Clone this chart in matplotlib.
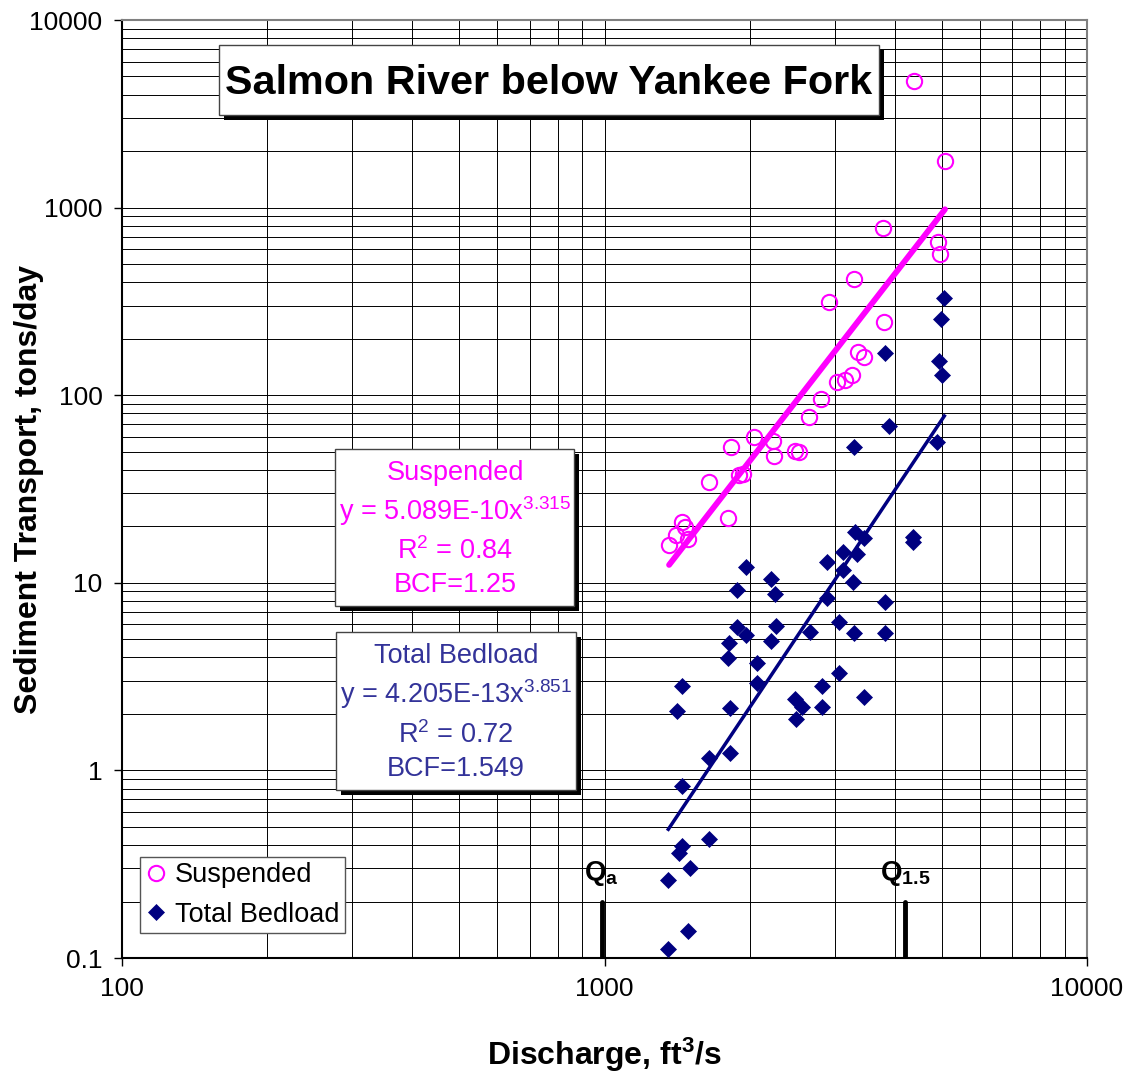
import numpy as np
import matplotlib.pyplot as plt
from matplotlib.patches import Rectangle
from matplotlib.ticker import LogLocator, NullFormatter

plt.rcParams['font.family'] = ['Liberation Sans', 'DejaVu Sans']
plt.rcParams['mathtext.fontset'] = 'custom'
plt.rcParams['mathtext.rm'] = 'Liberation Sans'
plt.rcParams['mathtext.it'] = 'Liberation Sans:italic'
plt.rcParams['mathtext.bf'] = 'Liberation Sans:bold'

W, H = 1131, 1074
SUSP_COLOR = '#FF00FF'
BED_COLOR = '#000080'
BED_TEXT = '#333399'

# discharge (ft3/s) and load (tons/day)
suspended_q = [4386, 5078, 3773, 4919, 4959, 3289, 2923, 3802, 3348, 3450,
               3263, 3151, 3038, 2810, 2650, 2044, 2232, 1826, 2245, 2482,
               2530, 1647, 1903, 1940, 1806, 1448, 1469, 1407, 1492, 1361]
suspended_load = [4750, 1770, 775, 658, 564, 415, 315, 246, 169, 159,
                  128, 120, 117, 95.4, 76.8, 60.1, 57.2, 53.2, 47.4, 50.6,
                  49.8, 34.3, 37.5, 38.2, 22.2, 21.2, 19.8, 18.0, 17.1, 16.0]

bedload_q = [5062, 4976, 3815, 4935, 4999, 3888, 3289, 4881, 3305, 3450,
             4365, 4365, 3126, 3332, 2887, 1962, 3126, 2214, 1886, 2256,
             3279, 2887, 3815, 3062, 2263, 1879, 1962, 2667, 3289, 3815,
             2214, 1811, 1806, 2067, 3062, 1445, 2067, 2819, 2482, 2563,
             3458, 1415, 1820, 2819, 2491, 1647, 1820, 1445, 1647, 1445,
             1427, 1504, 1356, 1488, 1356]
bedload_load = [329, 255, 167, 153, 128, 68.8, 53.2, 56.5, 18.7, 17.3,
                17.5, 16.6, 14.6, 14.2, 12.9, 12.2, 11.7, 10.5, 9.15, 8.68,
                10.1, 8.27, 7.87, 6.2, 5.92, 5.83, 5.27, 5.47, 5.43, 5.38,
                4.92, 4.76, 3.96, 3.72, 3.31, 2.83, 2.91, 2.82, 2.39, 2.18,
                2.46, 2.07, 2.16, 2.18, 1.87, 1.16, 1.24, 0.826, 0.429, 0.397,
                0.361, 0.301, 0.260, 0.139, 0.111]

# power-law fits shown in the boxes
susp_coef, susp_exp = 5.089e-10, 3.315
bed_coef, bed_exp = 4.205e-13, 3.851

q_a = 986
q_15 = 4200


def px_box(x0, y0, x1, y1, shadow=True):
    if shadow:
        fig.add_artist(Rectangle(((x0 + 5) / W, 1 - (y1 + 5) / H), (x1 - x0) / W, (y1 - y0) / H,
                                 transform=fig.transFigure, fc='black', ec='none', zorder=5))
    fig.add_artist(Rectangle((x0 / W, 1 - y1 / H), (x1 - x0) / W, (y1 - y0) / H,
                             transform=fig.transFigure, fc='white', ec='#444444', lw=1, zorder=6))


def px_text(cx, base, s, size, color='black', weight='normal'):
    fig.text(cx / W, 1 - base / H, s, ha='center', va='baseline', fontsize=size,
             color=color, fontweight=weight, zorder=7)


fig = plt.figure(figsize=(W / 100, H / 100), dpi=100)
ax = fig.add_axes([122 / W, 1 - 958 / H, 965 / W, 938 / H])
ax.set_xscale('log')
ax.set_yscale('log')
ax.set_xlim(100, 10000)
ax.set_ylim(0.1, 10000)

ax.plot(suspended_q, suspended_load, linestyle='none', marker='o', ms=11,
        mfc='none', mec=SUSP_COLOR, mew=1.5, label='Suspended', zorder=3)
ax.plot(bedload_q, bedload_load, linestyle='none', marker='D', ms=8.5,
        mfc=BED_COLOR, mec=BED_COLOR, mew=0.5, label='Total Bedload', zorder=3)

xs = np.geomspace(min(suspended_q), max(suspended_q), 50)
ax.plot(xs, susp_coef * xs ** susp_exp, color=SUSP_COLOR, lw=4.2, zorder=4,
        solid_capstyle='round')
xb = np.geomspace(min(bedload_q), max(bedload_q), 50)
ax.plot(xb, bed_coef * xb ** bed_exp, color=BED_COLOR, lw=2.5, zorder=4)

for q, lab in [(q_a, r'$\mathbf{Q_a}$'), (q_15, r'$\mathbf{Q_{1.5}}$')]:
    ax.plot([q, q], [0.1, 0.2], color='black', lw=3.5, solid_capstyle='round', zorder=4)
    ax.text(q, 0.26, lab, ha='center', va='baseline', fontsize=20)

ax.set_xticks([100, 1000, 10000])
ax.set_xticklabels(['100', '1000', '10000'])
ax.set_yticks([0.1, 1, 10, 100, 1000, 10000])
ax.set_yticklabels(['0.1', '1', '10', '100', '1000', '10000'])
ax.xaxis.set_minor_locator(LogLocator(base=10, subs=np.arange(2, 10)))
ax.yaxis.set_minor_locator(LogLocator(base=10, subs=np.arange(2, 10)))
ax.xaxis.set_minor_formatter(NullFormatter())
ax.yaxis.set_minor_formatter(NullFormatter())
ax.tick_params(which='major', direction='out', length=6, width=1, labelsize=19, pad=8)
ax.tick_params(which='minor', length=0)
ax.grid(True, which='both', color='black', lw=0.7)
ax.set_axisbelow(True)
for side in ['left', 'bottom']:
    ax.spines[side].set_color('black')
    ax.spines[side].set_linewidth(1.5)
for side in ['top', 'right']:
    ax.spines[side].set_color('#808080')
    ax.spines[side].set_linewidth(1.5)

ax.set_xlabel(r'Discharge, ft$^{\mathbf{3}}$/s', fontsize=23, fontweight='bold')
ax.set_ylabel('Sediment Transport, tons/day', fontsize=23, fontweight='bold')
ax.xaxis.set_label_coords(0.5, -0.083)
ax.yaxis.set_label_coords(-0.081, 0.5)

leg = ax.legend(loc='lower left', bbox_to_anchor=((140 - 122) / 965, (958 - 933) / 938),
                borderaxespad=0, fontsize=19.5, frameon=True, fancybox=False,
                edgecolor='#555555', framealpha=1, handlelength=0.8, handletextpad=0.3,
                borderpad=0.2, labelspacing=0.5)
leg.get_frame().set_linewidth(1)

# title box
px_box(219, 45, 879, 115)
px_text(549, 94, 'Salmon River below Yankee Fork', 29.8, weight='bold')

# suspended fit box
px_box(335, 449, 574, 606)
px_text(455, 480, 'Suspended', 19.5, SUSP_COLOR)
px_text(455, 520, 'y = 5.089E-10x$^{3.315}$', 19.5, SUSP_COLOR)
px_text(455, 559, 'R$^{2}$ = 0.84', 19.5, SUSP_COLOR)
px_text(455, 592, 'BCF=1.25', 19.5, SUSP_COLOR)

# bedload fit box
px_box(336, 632, 576, 790)
px_text(456, 663, 'Total Bedload', 19.5, BED_TEXT)
px_text(456, 703, 'y = 4.205E-13x$^{3.851}$', 19.5, BED_TEXT)
px_text(456, 743, 'R$^{2}$ = 0.72', 19.5, BED_TEXT)
px_text(456, 776, 'BCF=1.549', 19.5, BED_TEXT)

fig.savefig('out.png', dpi=100, facecolor='white')
